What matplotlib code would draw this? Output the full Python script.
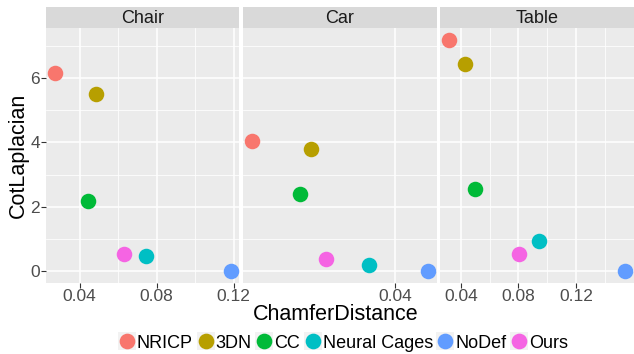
import matplotlib
matplotlib.use("Agg")
import matplotlib.pyplot as plt
from matplotlib.lines import Line2D
from matplotlib.legend_handler import HandlerTuple
from matplotlib.ticker import FixedLocator

plt.rcParams['font.family'] = ['Liberation Sans', 'DejaVu Sans']

categories = ["Chair", "Car", "Table"]
methods = ["NRICP", "3DN", "CC", "Neural Cages", "NoDef", "Ours"]
colors = ["#F8766D", "#B79F00", "#00BA38", "#00BFC4", "#619CFF", "#F564E3"]

chamfer_chair = [0.0271, 0.0485, 0.0445, 0.0745, 0.1183, 0.0631]
cot_chair = [6.16, 5.50, 2.19, 0.47, 0.00, 0.55]
chamfer_car = [0.0200, 0.0282, 0.0267, 0.0363, 0.0445, 0.0303]
cot_car = [4.03, 3.80, 2.40, 0.21, 0.00, 0.39]
chamfer_table = [0.0319, 0.0426, 0.0499, 0.0941, 0.1539, 0.0807]
cot_table = [7.19, 6.43, 2.55, 0.94, 0.00, 0.55]

x_breaks = [0.04, 0.08, 0.12]
x_minor = [0.02, 0.06, 0.10, 0.14]
x_tick_labels = ["0.04", "0.08", "0.12"]
y_breaks = [0, 2, 4, 6]
y_minor = [1, 3, 5, 7]

xs = [chamfer_chair, chamfer_car, chamfer_table]
ys = [cot_chair, cot_car, cot_table]

W, H = 634, 354
fig = plt.figure(figsize=(W / 100, H / 100), dpi=100)
fig.patch.set_facecolor("white")

def expand(vals, f=0.05):
    lo, hi = min(vals), max(vals)
    r = hi - lo
    return lo - f * r, hi + f * r

all_y = cot_chair + cot_car + cot_table
ylim = expand(all_y)

left0 = 46
pw = 193.3
gap = 3.9
top_strip = 7
strip_h = 21
ptop = 28
pbot = 283

for i, cat in enumerate(categories):
    x0 = left0 + i * (pw + gap)
    ax = fig.add_axes([x0 / W, 1 - pbot / H, pw / W, (pbot - ptop) / H])
    ax.set_facecolor("#EBEBEB")
    xl = expand(xs[i])
    ax.set_xlim(xl)
    ax.set_ylim(ylim)
    ax.xaxis.set_major_locator(FixedLocator(x_breaks))
    ax.set_xticklabels(x_tick_labels)
    inside = [b for b in x_breaks if xl[0] <= b <= xl[1]]
    if len(inside) >= 2:
        ax.xaxis.set_minor_locator(FixedLocator(x_minor))
    else:
        ax.xaxis.set_minor_locator(FixedLocator([]))
    ax.yaxis.set_major_locator(FixedLocator(y_breaks))
    ax.yaxis.set_minor_locator(FixedLocator(y_minor))
    ax.grid(which="major", color="white", linewidth=1.1)
    ax.grid(which="minor", color="white", linewidth=0.55)
    ax.set_axisbelow(True)
    for s in ax.spines.values():
        s.set_visible(False)
    ax.tick_params(which="minor", length=0)
    ax.tick_params(which="major", length=3.3, width=0.8, color="#333333",
                   labelsize=12.5, labelcolor="#4D4D4D", pad=1.0)
    if i > 0:
        ax.tick_params(axis="y", which="major", length=0, labelleft=False)
    for j, m in enumerate(methods):
        ax.scatter(xs[i][j], ys[i][j], s=125, color=colors[j], linewidths=0,
                   zorder=3, clip_on=False)
    sax = fig.add_axes([x0 / W, 1 - (top_strip + strip_h) / H, pw / W, strip_h / H])
    sax.set_facecolor("#D9D9D9")
    sax.set_xticks([]); sax.set_yticks([])
    for s in sax.spines.values():
        s.set_visible(False)
    sax.text(0.5, 0.45, cat, ha="center", va="center", fontsize=13,
             color="#1A1A1A", transform=sax.transAxes)

fig.text(18 / W, 1 - 155 / H, "CotLaplacian", rotation=90, ha="center",
         va="center", fontsize=15.5, color="black")
fig.text(336 / W, 1 - 314.5 / H, "ChamferDistance", ha="center", va="center",
         fontsize=15.5, color="black")

handles = [(Line2D([0], [0], marker="s", linestyle="none", markersize=12.5,
                   markerfacecolor="#F2F2F2", markeredgewidth=0),
            Line2D([0], [0], marker="o", linestyle="none", markersize=11.3,
                   markerfacecolor=c, markeredgewidth=0)) for c in colors]
leg = fig.legend(handles, methods, loc="center", ncol=6,
                 bbox_to_anchor=(343 / W, 1 - 342.5 / H), frameon=False,
                 fontsize=13, handletextpad=0.05, columnspacing=0.2,
                 handlelength=1.0, handleheight=1.0, borderpad=0,
                 handler_map={tuple: HandlerTuple(ndivide=1, pad=0)})

fig.savefig("out.png", dpi=100)
